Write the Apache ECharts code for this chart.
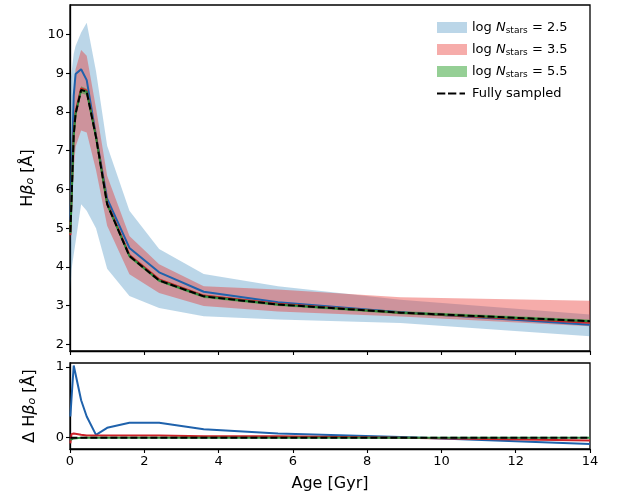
<!DOCTYPE html>
<html>
<head>
<meta charset="utf-8">
<script src="https://cdn.jsdelivr.net/npm/echarts@6/dist/echarts.min.js"></script>
<style>
  html, body { margin: 0; padding: 0; background: #fff; }
  #chart { width: 622px; height: 499px; }
</style>
</head>
<body>
<div id="chart"></div>
<script>
// age grid (Gyr)
const ages = [0.01, 0.04, 0.1, 0.15, 0.3, 0.45, 0.7, 1.0, 1.6, 2.4, 3.6, 5.6, 8.9, 14];

// top panel: H beta index
const fullySampled = [4.9, 5.7, 7.4, 7.95, 8.57, 8.52, 7.35, 5.62, 4.28, 3.65, 3.24, 3.03, 2.82, 2.6];
const line25 = [5.2, 6.25, 8.42, 8.98, 9.1, 8.82, 7.39, 5.76, 4.49, 3.86, 3.36, 3.09, 2.83, 2.51];
const line35 = [4.82, 5.75, 7.46, 8.01, 8.61, 8.55, 7.38, 5.65, 4.31, 3.68, 3.26, 3.05, 2.82, 2.56];
const line55 = [4.87, 5.67, 7.39, 7.95, 8.57, 8.52, 7.35, 5.62, 4.28, 3.65, 3.24, 3.03, 2.82, 2.6];

const hi25 = [8.8, 9.0, 9.5, 9.7, 10.05, 10.3, 9.05, 7.13, 5.45, 4.46, 3.82, 3.5, 3.15, 2.77];
const lo25 = [3.4, 3.93, 4.32, 4.64, 5.62, 5.45, 5.0, 3.95, 3.25, 2.94, 2.73, 2.64, 2.55, 2.21];
const hi35 = [5.4, 7.0, 8.5, 9.1, 9.6, 9.45, 8.1, 6.35, 4.8, 4.07, 3.5, 3.42, 3.22, 3.13];
const lo35 = [4.6, 5.3, 6.5, 7.1, 7.52, 7.47, 6.5, 5.06, 3.81, 3.33, 2.99, 2.85, 2.72, 2.47];
const hi55 = [5.0, 5.8, 7.5, 8.05, 8.66, 8.6, 7.43, 5.68, 4.33, 3.69, 3.28, 3.07, 2.86, 2.64];
const lo55 = [4.75, 5.55, 7.28, 7.85, 8.48, 8.44, 7.27, 5.56, 4.23, 3.61, 3.2, 2.99, 2.78, 2.56];

// bottom panel: difference to fully sampled
const delta25 = [0.3, 0.55, 1.02, 1.03, 0.53, 0.3, 0.04, 0.14, 0.21, 0.21, 0.12, 0.06, 0.01, -0.09];
const delta35 = [-0.08, 0.05, 0.06, 0.06, 0.04, 0.03, 0.03, 0.03, 0.03, 0.03, 0.02, 0.02, 0.0, -0.04];
const delta55 = [-0.03, -0.03, -0.01, 0, 0, 0, 0, 0, 0, 0, 0, 0, 0, 0];
const deltaFull = [0, 0, 0, 0, 0, 0, 0, 0, 0, 0, 0, 0, 0, 0];

const xTicks = [0, 2, 4, 6, 8, 10, 12, 14];
const yTicksTop = [2, 3, 4, 5, 6, 7, 8, 9, 10];
const yTicksBottom = [0, 1];

const names = ['log N_stars = 2.5', 'log N_stars = 3.5', 'log N_stars = 5.5', 'Fully sampled'];

const chart = echarts.init(document.getElementById('chart'));
const font = 'DejaVu Sans';

function pairs(ys) {
    return ages.map((a, i) => [a, ys[i]]);
}

function band(name, lo, hi, color) {
    return {
        name: name,
        type: 'custom',
        xAxisIndex: 0,
        yAxisIndex: 0,
        silent: true,
        z: 1,
        itemStyle: { color: color },
        data: ages.map((a, i) => [a, lo[i], hi[i]]),
        encode: { x: 0, y: [1, 2] },
        renderItem: function (params, api) {
            if (params.dataIndex !== 0) return;
            const top = ages.map((a, i) => api.coord([a, hi[i]]));
            const bot = ages.map((a, i) => api.coord([a, lo[i]])).reverse();
            return {
                type: 'polygon',
                shape: { points: top.concat(bot) },
                style: { fill: color }
            };
        }
    };
}

function line(name, ys, color, idx, dashed, z) {
    return {
        name: name,
        type: 'line',
        xAxisIndex: idx,
        yAxisIndex: idx,
        data: pairs(ys),
        symbol: 'none',
        silent: true,
        z: z,
        lineStyle: { color: color, width: 2, type: dashed ? [7, 3] : 'solid' },
        itemStyle: { color: color }
    };
}

const cBlue = '#1f62ac', cRed = '#cc2229', cGreen = '#2a8c3c';

// dashed-line legend icon; two tiny corner specks fix the icon box to 30x11
const dashIcon = 'path://M0,4.5h8.3v2h-8.3z M11,4.5h8.3v2h-8.3z M22.5,4.5h5.5v2h-5.5z ' +
    'M0,0h0.01v0.01h-0.01z M29.99,10.99h0.01v0.01h-0.01z';

const axisCommon = {
    axisLine: { show: true, onZero: false, lineStyle: { color: '#000', width: 1.3 } },
    axisTick: { show: true, length: 4, lineStyle: { color: '#000', width: 1.1 } },
    splitLine: { show: false },
    axisLabel: { color: '#000', fontSize: 13, fontFamily: font, margin: 6 }
};

const nameRich = {
    i: { fontSize: 16, fontFamily: font, fontStyle: 'italic' },
    s: { fontSize: 11, fontFamily: font, fontStyle: 'italic', verticalAlign: 'bottom', padding: [6, 0, 0, 0] }
};

const option = {
    animation: false,
    backgroundColor: '#fff',
    grid: [
        { left: 70, right: 32, top: 5, height: 346, show: true, borderColor: '#000', borderWidth: 1.3 },
        { left: 70, right: 32, top: 363, height: 86, show: true, borderColor: '#000', borderWidth: 1.3 }
    ],
    legend: {
        orient: 'vertical',
        left: 432,
        top: 16,
        itemWidth: 30,
        itemHeight: 11,
        itemGap: 7.5,
        textStyle: {
            color: '#000', fontSize: 13, fontFamily: font,
            rich: {
                t: { fontSize: 13, fontFamily: font, lineHeight: 16 },
                i: { fontSize: 13, fontFamily: font, fontStyle: 'italic', lineHeight: 16 },
                s: { fontSize: 9, fontFamily: font, verticalAlign: 'bottom', lineHeight: 8 }
            }
        },
        data: [
            { name: names[0], icon: 'rect', itemStyle: { color: 'rgba(31,119,180,0.3)' } },
            { name: names[1], icon: 'rect', itemStyle: { color: 'rgba(232,48,42,0.4)' } },
            { name: names[2], icon: 'rect', itemStyle: { color: 'rgba(44,160,44,0.5)' } },
            { name: names[3], icon: dashIcon, itemStyle: { color: '#000' } }
        ],
        formatter: function (name) {
            if (name === 'Fully sampled') return '{t|Fully sampled}';
            const v = name.split('=')[1].trim();
            return '{t|log }{i|N}{s|stars}{t| = ' + v + '}';
        },
        selectedMode: false
    },
    xAxis: [
        Object.assign({}, axisCommon, {
            type: 'value', gridIndex: 0, min: 0, max: 14, interval: 2,
            axisLabel: { show: false }
        }),
        Object.assign({}, axisCommon, {
            type: 'value', gridIndex: 1, min: 0, max: 14, interval: 2,
            axisLabel: Object.assign({}, axisCommon.axisLabel, { customValues: xTicks }),
            name: 'Age [Gyr]', nameLocation: 'middle', nameGap: 27,
            nameTextStyle: { color: '#000', fontSize: 16, fontFamily: font }
        })
    ],
    yAxis: [
        Object.assign({}, axisCommon, {
            type: 'value', gridIndex: 0, min: 1.83, max: 10.76,
            axisLabel: Object.assign({}, axisCommon.axisLabel, { customValues: yTicksTop }),
            axisTick: Object.assign({}, axisCommon.axisTick, { customValues: yTicksTop }),
            name: 'H{i|β}{s|o} [Å]', nameLocation: 'middle', nameGap: 34,
            nameTextStyle: { color: '#000', fontSize: 16, fontFamily: font, rich: nameRich }
        }),
        Object.assign({}, axisCommon, {
            type: 'value', gridIndex: 1, min: -0.16, max: 1.056,
            axisLabel: Object.assign({}, axisCommon.axisLabel, { customValues: yTicksBottom }),
            axisTick: Object.assign({}, axisCommon.axisTick, { customValues: yTicksBottom }),
            name: 'Δ H{i|β}{s|o} [Å]', nameLocation: 'middle', nameGap: 32,
            nameTextStyle: { color: '#000', fontSize: 16, fontFamily: font, rich: nameRich }
        })
    ],
    series: [
        band(names[0], lo25, hi25, 'rgba(31,119,180,0.3)'),
        band(names[1], lo35, hi35, 'rgba(232,48,42,0.4)'),
        band(names[2], lo55, hi55, 'rgba(44,160,44,0.5)'),
        line('line 2.5', line25, cBlue, 0, false, 3),
        line('line 3.5', line35, cRed, 0, false, 4),
        line('line 5.5', line55, cGreen, 0, false, 5),
        line(names[3], fullySampled, '#000', 0, true, 6),
        line('delta 2.5', delta25, cBlue, 1, false, 3),
        line('delta 3.5', delta35, cRed, 1, false, 4),
        line('delta 5.5', delta55, cGreen, 1, false, 5),
        line('delta full', deltaFull, '#000', 1, true, 6)
    ]
};

chart.setOption(option);
</script>
</body>
</html>
